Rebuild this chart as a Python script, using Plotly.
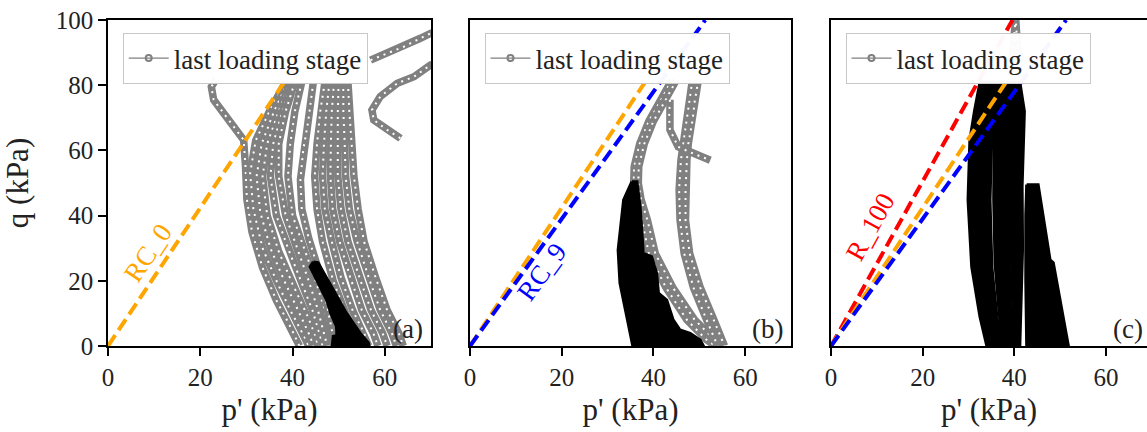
import plotly.graph_objects as go

# ---------------- data (p' in kPa, q in kPa) ----------------
# Panel (a): grey cycles (last loading stage), one list per strand
a_gray_p = [
    [23.5, 22.4, 22.9, 29.4, 29.8, 30.1, 31.2, 33.5, 36.5, 39.5, 41.5],
    [38.5, 35.0, 32.0, 30.8, 31.5, 33.5, 36.5, 39.5, 42.5, 43.5],
    [39.0, 36.0, 33.3, 32.2, 33.0, 35.2, 38.2, 41.2, 43.8, 44.5],
    [39.5, 37.0, 34.5, 33.5, 34.5, 37.0, 40.0, 43.0, 45.0, 45.5],
    [40.0, 37.8, 35.8, 35.2, 36.5, 39.0, 41.8, 44.3, 46.0, 46.5],
    [40.5, 38.5, 37.0, 37.0, 38.5, 41.0, 43.5, 45.5, 47.0, 47.5],
    [42.0, 40.5, 39.5, 39.0, 40.0, 42.5, 45.0, 47.0, 48.5, 49.0],
    [44.5, 43.4, 42.3, 41.7, 42.0, 43.5, 45.5, 47.0, 48.5, 49.0],
    [47.0, 46.0, 45.3, 44.8, 45.3, 46.5, 48.8, 51.5, 54.0, 55.0],
    [48.0, 47.3, 46.8, 46.5, 47.0, 48.5, 50.5, 53.0, 55.5, 56.5],
    [49.0, 48.5, 48.3, 48.2, 48.7, 50.2, 52.5, 55.0, 57.5, 58.5],
    [50.0, 49.8, 49.8, 49.8, 50.5, 52.0, 54.5, 57.0, 59.5, 60.5],
    [51.0, 51.0, 51.3, 51.5, 52.3, 54.0, 56.5, 59.0, 61.5, 62.5],
    [52.0, 52.3, 52.8, 53.3, 54.2, 55.5, 58.0, 60.5, 63.0, 64.0],
    [56.9, 60.5, 64.1, 67.7, 69.9, 72.0],
    [72.0, 69.9, 66.3, 62.7, 59.0, 57.2, 57.6, 60.5, 63.4],
]
a_gray_q = [
    [82, 79.5, 75.5, 63.2, 55, 45, 35, 24, 14, 6, 0],
    [81, 72, 63, 53, 42, 30, 20, 11, 3, 0],
    [81, 72, 62, 52, 41, 30, 20, 11, 3, 0],
    [81, 72, 62, 52, 40, 29, 19, 10, 3, 0],
    [81, 72, 62, 52, 40, 30, 20, 11, 3, 0],
    [81, 72, 62, 52, 40, 30, 20, 11, 3, 0],
    [81, 72, 62, 52, 40, 30, 20, 11, 3, 0],
    [81, 69, 60, 51, 42, 33, 24, 16, 5, 0],
    [81, 72, 62, 52, 42, 32, 20, 10, 3, 0],
    [81, 72, 62, 52, 42, 32, 21, 11, 4, 0],
    [81, 72, 62, 52, 42, 32, 21, 11, 4, 0],
    [81, 72, 62, 52, 42, 32, 21, 11, 4, 0],
    [81, 72, 62, 52, 42, 32, 21, 11, 4, 0],
    [81, 72, 62, 52, 42, 32, 21, 11, 4, 0],
    [87.7, 89.8, 91.8, 94.4, 95.9, 97.0],
    [87.0, 86.2, 82.6, 80.6, 76.5, 72.4, 69.3, 66.3, 63.7],
]
# Panel (a): black region (earlier stages)
a_black_p = [44.5, 45.5, 46.0, 48.8, 51.7, 54.6, 56.4, 56.6, 48.6, 48.8, 49.6, 49.5, 48.3, 47.4, 45.2, 43.8, 44.5]
a_black_q = [25.8, 25.6, 24.3, 17.2, 10.0, 4.0, 1.0, 0.0, 0.0, 2.9, 3.2, 6.0, 10.0, 14.1, 20.2, 24.3, 25.8]

# Panel (b)
b_gray_p = [
    [44.0, 41.5, 39.0, 37.0, 35.8, 35.7, 36.3, 37.5, 39.0, 42.7, 47.3, 51.5, 53.5],
    [45.0, 42.5, 40.0, 38.0, 36.8, 36.7, 37.3, 38.7, 40.4, 44.2, 49.0, 53.3, 55.0],
    [48.5, 47.8, 47.3, 46.4, 46.0, 45.6, 45.8, 46.7, 48.7, 51.6, 53.8, 54.0],
    [49.8, 49.0, 48.5, 47.6, 47.3, 47.0, 47.0, 47.9, 50.2, 53.2, 55.2, 55.5],
    [43.6, 43.4, 43.6, 45.4, 48.7, 52.4],
]
b_gray_q = [
    [81.6, 75, 69, 62, 55, 50, 45, 38.6, 28.4, 18, 8, 2, 0],
    [81.6, 75, 69, 62, 55, 50, 45, 38.6, 28.4, 18, 8, 2, 0],
    [81.6, 75, 69, 62, 57, 48, 38.6, 28.4, 18, 8, 1, 0],
    [81.6, 75, 69, 62, 57, 48, 38.6, 28.4, 18, 8, 1, 0],
    [75.5, 70, 66.3, 61.1, 59, 57],
]
b_black_p = [35.3, 33.5, 32.3, 32.7, 34.2, 35.3, 35.5, 50.9, 50.2, 48.0, 45.8, 44.3, 42.9, 41.1,
             40.7, 39.6, 37.8, 37.5, 37.1, 36.4, 35.3]
b_black_q = [50.4, 44.8, 29.4, 19.3, 9.0, 1.0, 0.0, 0.0, 1.8, 3.9, 4.9, 8.0, 14.1, 16.2,
             22.3, 27.4, 28.4, 34.6, 42.7, 50.4, 50.4]

# Panel (c)
c_gray_p = [[39.3, 40.3, 41.0]]
c_gray_q = [[85.0, 100.5, 85.0]]
c_black_p = [
    [32.5, 31.3, 30.3, 29.9, 30.7, 32.5, 34.0, 37.2, 36.2, 35.1, 34.7, 35.1, 35.8, 32.5],
    [36.2, 39.4, 38.9, 38.8, 38.9, 39.2, 39.4, 37.5, 36.7, 35.8, 35.5, 35.6, 36.2],
    [39.8, 41.2, 42.2, 42.0, 41.7, 41.8, 41.5, 41.2, 39.6, 39.7, 39.4, 39.1, 39.2, 39.8],
    [42.7, 45.2, 47.8, 48.5, 51.8, 42.7, 42.5, 42.5, 42.7],
]
c_black_q = [
    [81, 72, 63.2, 44.8, 24.3, 9, 0, 0, 9, 24.3, 44.8, 65, 81, 81],
    [81, 81, 65, 45, 25, 10, 0, 0, 10, 25, 45, 65, 81],
    [81, 81, 72, 60, 49, 30, 10, 0, 0, 10, 25, 49, 65, 81],
    [49.5, 49.5, 26.4, 25.5, 0, 0, 20, 40, 49.5],
]

# Reference lines
rc0_p, rc0_q = [0, 40.0], [0, 84.8]        # RC_0 (orange)
rc9_p, rc9_q = [0, 51.3], [0, 100.0]       # RC_9 (blue)
r100_p, r100_q = [0, 39.6], [0, 100.0]     # R_100 (red)

x_ticks = [0, 20, 40, 60]
y_ticks = [0, 20, 40, 60, 80, 100]
legend_label = "last loading stage"
panel_labels = ["(a)", "(b)", "(c)"]

# ---------------- styles ----------------
GRAY = "#808080"
ORANGE = "#FFA500"
BLUE = "#0000FF"
RED = "#FF0000"
FONT = "Liberation Serif, Times New Roman, Times, serif"
DASH = "13px,6px"
TXT = "#222222"

fig = go.Figure()


def add_gray(p, q, xa, ya):
    fig.add_trace(go.Scatter(x=p, y=q, mode="lines", xaxis=xa, yaxis=ya,
                             line=dict(color=GRAY, width=7.5), showlegend=False,
                             hoverinfo="skip"))
    fig.add_trace(go.Scatter(x=p, y=q, mode="lines", xaxis=xa, yaxis=ya,
                             line=dict(color="white", width=2, dash="2px,5px"),
                             showlegend=False, hoverinfo="skip"))


def add_black(p, q, xa, ya):
    fig.add_trace(go.Scatter(x=p, y=q, mode="lines", fill="toself", fillcolor="black",
                             xaxis=xa, yaxis=ya, line=dict(color="black", width=3),
                             showlegend=False, hoverinfo="skip"))


def add_line(p, q, color, xa, ya):
    fig.add_trace(go.Scatter(x=p, y=q, mode="lines", xaxis=xa, yaxis=ya,
                             line=dict(color=color, width=4, dash=DASH),
                             showlegend=False, hoverinfo="skip"))


def add_legend_entry(xa, ya, lg):
    fig.add_trace(go.Scatter(x=[None], y=[None], mode="lines+markers", xaxis=xa, yaxis=ya,
                             name=legend_label, legend=lg,
                             line=dict(color=GRAY, width=1.2),
                             marker=dict(symbol="circle-open", size=6, color=GRAY,
                                         line=dict(width=2, color=GRAY))))


# panel a
for p, q in zip(a_gray_p, a_gray_q):
    add_gray(p, q, "x", "y")
add_black(a_black_p, a_black_q, "x", "y")
add_line(rc0_p, rc0_q, ORANGE, "x", "y")
add_legend_entry("x", "y", "legend")

# panel b
for p, q in zip(b_gray_p, b_gray_q):
    add_gray(p, q, "x2", "y2")
add_black(b_black_p, b_black_q, "x2", "y2")
add_line(rc0_p, rc0_q, ORANGE, "x2", "y2")
add_line(rc9_p, rc9_q, BLUE, "x2", "y2")
add_legend_entry("x2", "y2", "legend2")

# panel c
for p, q in zip(c_gray_p, c_gray_q):
    add_gray(p, q, "x3", "y3")
for p, q in zip(c_black_p, c_black_q):
    add_black(p, q, "x3", "y3")
add_line(r100_p, r100_q, RED, "x3", "y3")
add_line(rc0_p, rc0_q, ORANGE, "x3", "y3")
add_line(rc9_p, rc9_q, BLUE, "x3", "y3")
add_legend_entry("x3", "y3", "legend3")

# ---------------- layout ----------------
L, R, T, B = 108, 0, 20, 86
W, H = 1147, 432
pw = W - L - R


def dom(a, b):
    return [(a - L) / pw, (b - L) / pw]


doms = [dom(108, 431), dom(470, 791), dom(831, 1147)]
xr = [[0, 70], [0, 70], [0, 316 / 4.583]]

axis_common = dict(showline=True, linecolor="black", linewidth=1.5, ticks="outside",
                   ticklen=8, tickwidth=1.5, tickcolor="black", showgrid=False,
                   zeroline=False, tickfont=dict(family=FONT, size=25, color=TXT))

layout = dict(width=W, height=H, margin=dict(l=L, r=R, t=T, b=B),
              plot_bgcolor="white", paper_bgcolor="white",
              font=dict(family=FONT, color=TXT))

for i in range(3):
    sx = "" if i == 0 else str(i + 1)
    layout["xaxis" + sx] = dict(axis_common, domain=doms[i], range=xr[i], tickvals=x_ticks,
                                mirror=True, anchor="y" + sx,
                                title=dict(text="p' (kPa)", font=dict(family=FONT, size=31, color=TXT),
                                           standoff=9))
    ya = dict(axis_common, domain=[0, 1], range=[0, 100], tickvals=y_ticks,
              anchor="x" + sx, mirror=(i < 2))
    if i == 0:
        ya["title"] = dict(text="q (kPa)", font=dict(family=FONT, size=31, color=TXT), standoff=19)
    else:
        ya["showticklabels"] = False
        ya["ticks"] = ""
    layout["yaxis" + sx] = ya

    lg = "legend" if i == 0 else "legend" + str(i + 1)
    left_px = [122.7, 484.5, 845.5][i]
    layout[lg] = dict(x=(left_px - L) / pw, y=(346 - 33) / 326, xanchor="left", yanchor="top",
                      xref="paper", yref="paper",
                      bgcolor="rgba(255,255,255,0.97)", bordercolor="#c8c8c8", borderwidth=1,
                      font=dict(family=FONT, size=27, color=TXT), itemwidth=40)

fig.update_layout(**layout)

# rotated line labels
fig.add_annotation(x=8.7, y=28.4, xref="x", yref="y", text="RC_0", showarrow=False,
                   textangle=-56, font=dict(family=FONT, size=27, color=ORANGE))
fig.add_annotation(x=15.6, y=22.8, xref="x2", yref="y2", text="RC_9", showarrow=False,
                   textangle=-54, font=dict(family=FONT, size=27, color=BLUE))
fig.add_annotation(x=8.5, y=36.6, xref="x3", yref="y3", text="R_100", showarrow=False,
                   textangle=-61, font=dict(family=FONT, size=27, color=RED))

# panel labels
for i, (lab, xd) in enumerate(zip(panel_labels, [0.981, 0.981, 0.994])):
    sx = "" if i == 0 else str(i + 1)
    fig.add_annotation(x=xd, y=0.0, xref="x" + sx + " domain", yref="y" + sx + " domain",
                       text=lab, showarrow=False, xanchor="right", yanchor="bottom",
                       font=dict(family=FONT, size=27, color=TXT))

fig.write_html("out.html")
